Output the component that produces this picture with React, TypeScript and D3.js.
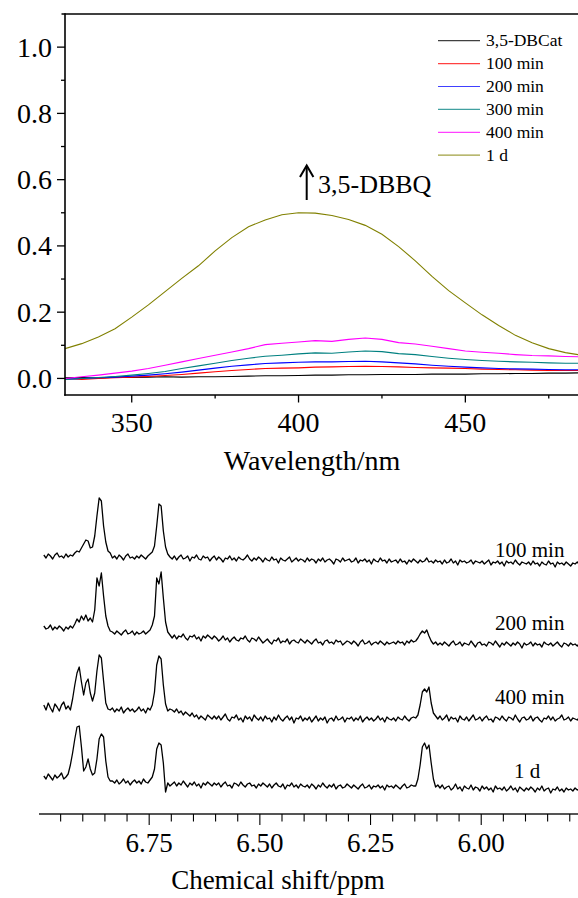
import React from 'react';
import * as d3 from 'd3';

// ---------- UV-vis data ----------
const WAVELENGTHS = [330, 335, 340, 345, 350, 355, 360, 365, 370, 375, 380, 385, 390, 395, 400, 405, 410, 415, 420, 425, 430, 435, 440, 445, 450, 455, 460, 465, 470, 475, 480, 485];
const UV_NAMES = ['3,5-DBCat', '100 min', '200 min', '300 min', '400 min', '1 d'];
const UV_COLORS = ['#000000', '#ff0000', '#0000ff', '#008080', '#ff00ff', '#808000'];
const ABS_DBCAT = [0.002, 0.003, 0.001, 0.004, 0.003, 0.004, 0.005, 0.004, 0.005, 0.005, 0.006, 0.007, 0.008, 0.008, 0.009, 0.010, 0.010, 0.011, 0.011, 0.012, 0.012, 0.012, 0.013, 0.013, 0.013, 0.014, 0.014, 0.015, 0.015, 0.016, 0.016, 0.017];
const ABS_100 = [0.000, -0.003, 0.000, 0.002, 0.004, 0.006, 0.009, 0.012, 0.016, 0.020, 0.024, 0.027, 0.030, 0.031, 0.032, 0.034, 0.035, 0.036, 0.037, 0.036, 0.035, 0.033, 0.032, 0.031, 0.030, 0.028, 0.027, 0.026, 0.025, 0.024, 0.024, 0.024];
const ABS_200 = [-0.002, 0.000, 0.002, 0.004, 0.007, 0.010, 0.014, 0.019, 0.025, 0.031, 0.037, 0.041, 0.045, 0.047, 0.049, 0.050, 0.050, 0.051, 0.052, 0.050, 0.047, 0.044, 0.040, 0.037, 0.034, 0.032, 0.030, 0.029, 0.028, 0.027, 0.026, 0.026];
const ABS_300 = [-0.003, 0.000, 0.003, 0.006, 0.010, 0.015, 0.021, 0.030, 0.038, 0.046, 0.054, 0.061, 0.067, 0.070, 0.074, 0.077, 0.076, 0.080, 0.083, 0.081, 0.075, 0.072, 0.066, 0.061, 0.057, 0.054, 0.052, 0.050, 0.049, 0.047, 0.046, 0.046];
const ABS_400 = [0.000, 0.005, 0.010, 0.016, 0.022, 0.030, 0.040, 0.050, 0.060, 0.070, 0.080, 0.090, 0.102, 0.106, 0.110, 0.114, 0.112, 0.118, 0.122, 0.118, 0.108, 0.104, 0.097, 0.090, 0.083, 0.079, 0.076, 0.072, 0.069, 0.068, 0.066, 0.065];
const ABS_1D = [0.090, 0.105, 0.125, 0.150, 0.185, 0.222, 0.262, 0.302, 0.340, 0.385, 0.425, 0.458, 0.478, 0.494, 0.500, 0.499, 0.492, 0.480, 0.462, 0.435, 0.398, 0.355, 0.308, 0.265, 0.228, 0.192, 0.160, 0.130, 0.108, 0.090, 0.078, 0.070];
const UV_SERIES = [ABS_DBCAT, ABS_100, ABS_200, ABS_300, ABS_400, ABS_1D];
const UV_X_MAJOR = [350, 400, 450];
const UV_X_MINOR = [375, 425, 475];
const UV_Y_MAJOR = [0.0, 0.2, 0.4, 0.6, 0.8, 1.0];
const UV_Y_MINOR = [0.1, 0.3, 0.5, 0.7, 0.9];

// ---------- NMR data (sampled from 6.988 ppm, every 0.005 ppm) ----------
const NMR_START = 6.988;
const NMR_STEP = 0.005;
const NMR_LABELS = ['100 min', '200 min', '400 min', '1 d'];
const NMR_OFFSETS = [244, 172, 93, 23];
const NMR_100 = [
  1, -2, 2, 0, -3, 1, 3, -1, 0, -2, 2, -1, 1, 0,
  3, 5, 4, 8,
  12, 16, 15, 8, 9, 20, 40, 58, 55, 30, 14, 5, 3,
  -2, 0, -3, 1, -1, -4, 0, 2, -2, -1, -3, 0, -2, 1, -1, -3, 0, 2, 4,
  10, 30, 52, 50, 25, 9, 2, -1,
  -3, 0, -4, -1, 1, -3, -2, 0, -5, -1, -2, 1, -3, -4, 0, -2, -1, -5, -2, 0,
  -4, -1, -3, -6, -2, -3, 0, -4, -2, -5, -1, -3, -4, -2, 1, -3, -5, -2, -4, -1,
  -3, -6, -2, -4, -5, -1, -4, -3, -7, -2, -4, -5, -3, -1, -6, -4, -2, -5, -3, -4,
  -6, -2, -5, -3, -4, -7, -3, -5, -2, -6, -4, -3, -5, -8, -3, -4, -6, -2, -5, -4,
  -3, -6, -5, -2, -7, -4, -5, -3, -6, -4, -8, -3, -5, -6, -2, -5, -4, -7, -3, -6,
  -5, -4, -7, -3, -6, -5, -8, -4, -6, -3, -5, -7, -4, -6, -5, -2, -6, -5, -7, -4,
  -6, -5, -8, -4, -7, -6, -3, -7, -5, -9, -4, -6, -5, -7, -6, -4, -8, -5, -6, -7,
  -5, -8, -6, -4, -9, -6, -7, -5, -8, -6, -10, -5, -7, -6, -8, -4, -7, -9, -6, -7,
  -8, -6, -9, -5, -8, -7, -10, -6, -8, -9, -5, -8, -7, -11, -6, -8, -7, -9, -6, -8, -10, -7, -8, -6, -9,
];
const NMR_200 = [
  2, -1, 0, 3, -2, 1, -1, 2, 0, -3, 1, -1, 2, 0,
  4, 9, 6, 12, 8, 13, 7, 10,
  6, 18, 50, 42, 55, 32, 12, 2, -3,
  -4, -6, -3, -5, -7, -4, -2, -6, -5, -3, -7, -4, -6, -5, -3, -6, -4, -2, 3,
  12, 50, 44, 56, 30, 6, -4, -7,
  -10, -7, -11, -8, -9, -6, -10, -12, -8, -9, -7, -11, -9, -13, -8, -10, -7, -9, -11, -8,
  -10, -13, -11, -8, -12, -10, -14, -11, -9, -12, -13, -10, -11, -8, -12, -14, -10, -11, -13, -9,
  -12, -15, -13, -11, -14, -16, -12, -13, -10, -15, -13, -14, -11, -16, -13, -12, -14, -15, -11, -13,
  -15, -12, -14, -16, -13, -11, -15, -14, -17, -13, -12, -15, -14, -16, -12, -14, -13, -17, -15, -13,
  -14, -16, -13, -15, -18, -14, -12, -16, -15, -13, -17, -15, -14, -16, -13, -15, -17, -14, -16, -15,
  -14, -16, -13, -15, -14, -17, -13, -15, -12, -14,
  -13, -10, -6, -3, -5, -2, -8, -13, -16, -14, -17,
  -15, -17, -14, -16, -18, -15, -13, -17, -16, -14, -18, -15, -16, -17, -13, -16, -19, -15, -14, -17,
  -16, -18, -14, -15, -17, -13, -16, -19, -15, -17, -14, -16, -18, -15, -17, -14, -16, -20, -15, -17,
  -16, -14, -18, -15, -17, -16, -19, -14, -16, -17, -15, -18, -16, -14, -17, -19, -15, -16, -18, -15,
  -17, -16, -18, -15,
];
const NMR_400 = [
  2, -3, 4, -1, -5, 3, 0, -4, 2, 5, -2, 1, -3, 8,
  22, 34, 40, 25, 12, 24, 28, 14, 6, 14, 36, 52, 49, 26, 4, -2, -3,
  -1, -5, -2, -4, 0, -6, -3, -1, -4, -2, -5, -3, 0, -4, -2, -6, -1, -3, 2,
  15, 42, 51, 48, 22, 3, -4, -2,
  -3, -5, -2, -6, -4, -8, -5, -7, -9, -6, -10, -8, -12, -9, -11, -13, -8, -10, -12, -9,
  -12, -9, -13, -10, -7, -12, -14, -10, -11, -8, -13, -11, -15, -9, -12, -10, -14, -8, -11, -13,
  -10, -14, -9, -12, -11, -15, -10, -13, -8, -12, -14, -11, -9, -13, -10, -16, -11, -12, -9, -14,
  -11, -13, -10, -15, -12, -9, -14, -11, -13, -10, -16, -12, -11, -14, -9, -13, -12, -10, -15, -11,
  -12, -10, -14, -11, -13, -9, -15, -12, -10, -13, -11, -14, -12, -9, -13, -11, -15, -10, -12, -13,
  -11, -14, -10, -12, -13, -9, -12, -14, -11, -10,
  -11, -8, 2, 15, 18, 15, 20, 4, -6, -9,
  -12, -9, -13, -11, -8, -14, -10, -12, -11, -15, -9, -12, -13, -10, -14, -11, -8, -13, -12, -10,
  -14, -11, -9, -13, -12, -15, -10, -11, -13, -9, -12, -14, -10, -11, -13, -8, -12, -15, -11, -10,
  -13, -12, -9, -14, -11, -10, -13, -15, -11, -12, -9, -13, -10, -14, -12, -11, -8, -13, -12, -10,
  -14, -11, -12, -13, -10,
];
const NMR_1D = [
  1, -2, 3, 0, -3, 2, -1, 1, 4, -2, 0, 3, 12,
  24, 38, 50, 51, 30, 6, 10, 18, 8, 2, 4, 18, 38, 43, 40, 16, 0, -4,
  -4, -6, -3, -7, -5, -2, -6, -4, -8, -5, -3, -6, -4, -7, -2, -5, -6, -3, 0,
  8, 28, 34, 32, 14, -15, -6, -9,
  -7, -5, -9, -6, -8, -4, -7, -10, -6, -8, -5, -9, -7, -11, -6, -8, -5, -7, -9, -6,
  -8, -6, -10, -7, -5, -9, -8, -11, -6, -7, -9, -5, -8, -10, -7, -6, -9, -8, -11, -7,
  -9, -6, -8, -10, -7, -11, -8, -6, -9, -10, -7, -12, -8, -9, -6, -10, -8, -11, -7, -9,
  -10, -8, -11, -7, -9, -12, -8, -10, -6, -9, -11, -8, -10, -7, -12, -9, -8, -11, -10, -7,
  -9, -11, -8, -10, -12, -9, -7, -11, -10, -8, -12, -9, -10, -8, -11, -9, -13, -8, -10, -9,
  -11, -8, -10, -12, -9, -7, -11, -10, -8, -9,
  -9, -2, 12, 30, 34, 28, 32, 14, -2, -10, -8,
  -11, -8, -12, -10, -9, -13, -11, -7, -12, -10, -14, -9, -11, -12, -8, -13, -10, -11, -14, -9,
  -12, -10, -13, -11, -15, -9, -12, -11, -13, -10, -14, -12, -9, -13, -11, -15, -10, -12, -14, -11,
  -13, -10, -12, -15, -11, -13, -9, -14, -12, -11, -16, -12, -13, -10, -14, -12, -15, -11, -13, -12,
  -14, -11, -13, -12,
];
const NMR_SERIES = [NMR_100, NMR_200, NMR_400, NMR_1D];
const NMR_MAJOR = [6.75, 6.5, 6.25, 6.0];
const NMR_MINOR = [6.95, 6.9, 6.85, 6.8, 6.7, 6.65, 6.6, 6.55, 6.45, 6.4, 6.35, 6.3, 6.2, 6.15, 6.1, 6.05, 5.95, 5.9, 5.85, 5.8];

const FONT = '"Liberation Serif", "Times New Roman", Times, serif';

export default function App() {
  const W = 578;
  const H = 898;

  // UV panel
  const xUV = d3.scaleLinear().domain([330, 490]).range([65, 598.8]);
  const yUV = d3.scaleLinear().domain([-0.05, 1.1]).range([395, 14]);
  const uvLine = (vals: number[]) =>
    d3.line<number>()
      .x((_, i) => xUV(WAVELENGTHS[i]))
      .y((v) => yUV(v))(vals) || '';

  // NMR panel
  const xNMR = d3.scaleLinear().domain([7.0, 5.75]).range([38.5, 591.9]);
  const yNMR = d3.scaleLinear().domain([0, 320]).range([800, 480]);
  const nmrLine = (vals: number[], off: number) =>
    d3.line<number>()
      .x((_, i) => xNMR(NMR_START - NMR_STEP * i))
      .y((v) => yNMR(v + off))(vals) || '';

  const legendX0 = 438;
  const legendY0 = 40.7;
  const legendDy = 22.9;

  const nmrLabelPos = [
    { x: 495, y: 557 },
    { x: 495, y: 630 },
    { x: 495, y: 704 },
    { x: 514, y: 778 },
  ];

  return (
    <svg width={W} height={H} style={{ position: 'absolute', left: 0, top: 0, background: '#fff', fontFamily: FONT }}>
      <rect x={0} y={0} width={W} height={H} fill="#fff" />
      <defs>
        <clipPath id="uvclip">
          <rect x={65} y={14} width={W - 65} height={381} />
        </clipPath>
      </defs>

      {/* UV curves */}
      <g clipPath="url(#uvclip)">
        {UV_SERIES.map((s, k) => (
          <path key={k} d={uvLine(s)} fill="none" stroke={UV_COLORS[k]} strokeWidth={1.1} />
        ))}
      </g>

      {/* UV axes */}
      <line x1={61.5} x2={W} y1={14} y2={14} stroke="#000" strokeWidth={1.6} />
      <line x1={65} x2={65} y1={13.2} y2={395.8} stroke="#000" strokeWidth={1.6} />
      <line x1={64.2} x2={W} y1={395} y2={395} stroke="#000" strokeWidth={1.6} />
      {UV_Y_MAJOR.map((v) => (
        <g key={'ym' + v}>
          <line x1={57} x2={65} y1={yUV(v)} y2={yUV(v)} stroke="#000" strokeWidth={1.3} />
          <text x={52} y={yUV(v) + 9.5} textAnchor="end" fontSize={28} fill="#000">{d3.format('.1f')(v)}</text>
        </g>
      ))}
      {UV_Y_MINOR.map((v) => (
        <line key={'yn' + v} x1={61} x2={65} y1={yUV(v)} y2={yUV(v)} stroke="#000" strokeWidth={1.3} />
      ))}
      {UV_X_MAJOR.map((v) => (
        <g key={'xm' + v}>
          <line x1={xUV(v)} x2={xUV(v)} y1={395} y2={402.5} stroke="#000" strokeWidth={1.3} />
          <text x={xUV(v)} y={431.5} textAnchor="middle" fontSize={28} fill="#000">{v}</text>
        </g>
      ))}
      {UV_X_MINOR.map((v) => (
        <line key={'xn' + v} x1={xUV(v)} x2={xUV(v)} y1={395} y2={398.5} stroke="#000" strokeWidth={1.3} />
      ))}
      <text x={312} y={470} textAnchor="middle" fontSize={28} fill="#000">Wavelength/nm</text>

      {/* Legend */}
      {UV_NAMES.map((n, k) => (
        <g key={'lg' + n}>
          <line x1={legendX0} x2={legendX0 + 42} y1={legendY0 + k * legendDy} y2={legendY0 + k * legendDy} stroke={UV_COLORS[k]} strokeWidth={1.2} strokeOpacity={0.75} />
          <text x={legendX0 + 48} y={legendY0 + k * legendDy + 5.5} fontSize={17.5} fill="#000">{n}</text>
        </g>
      ))}

      {/* Annotation */}
      <line x1={306.7} x2={306.7} y1={200} y2={166} stroke="#000" strokeWidth={2} />
      <path d="M300,177 L306.7,165.5 L313.4,177" fill="none" stroke="#000" strokeWidth={2} />
      <text x={318} y={193.3} fontSize={26} fill="#000">3,5-DBBQ</text>

      {/* NMR traces */}
      {NMR_SERIES.map((s, k) => (
        <path key={'nmr' + k} d={nmrLine(s, NMR_OFFSETS[k])} fill="none" stroke="#000" strokeWidth={1.3} strokeLinejoin="round" />
      ))}
      {NMR_LABELS.map((n, k) => (
        <text key={'nl' + n} x={nmrLabelPos[k].x} y={nmrLabelPos[k].y} fontSize={21} fill="#000">{n}</text>
      ))}

      {/* NMR axis */}
      <line x1={39} x2={W} y1={814} y2={814} stroke="#555" strokeWidth={2} />
      {NMR_MAJOR.map((v) => (
        <g key={'nm' + v}>
          <line x1={xNMR(v)} x2={xNMR(v)} y1={814} y2={825} stroke="#000" strokeWidth={1.1} />
          <text x={xNMR(v)} y={852} textAnchor="middle" fontSize={27} fill="#000">{d3.format('.2f')(v)}</text>
        </g>
      ))}
      {NMR_MINOR.map((v) => (
        <line key={'nn' + v} x1={xNMR(v)} x2={xNMR(v)} y1={814} y2={821.5} stroke="#000" strokeWidth={1.1} />
      ))}
      <text x={278} y={889} textAnchor="middle" fontSize={27} fill="#000">Chemical shift/ppm</text>
    </svg>
  );
}
